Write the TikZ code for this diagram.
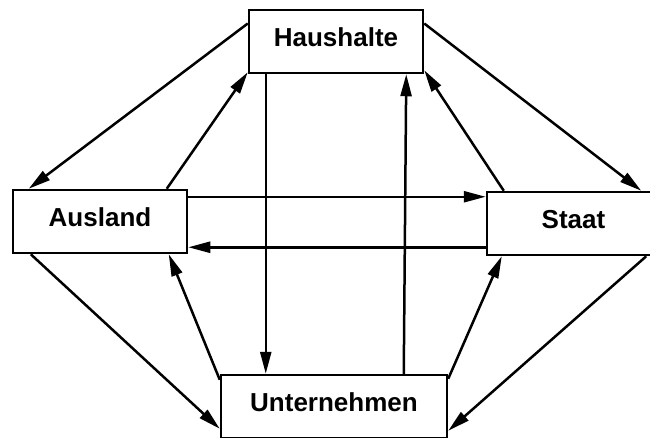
\documentclass[tikz,border=0pt]{standalone}
\usepackage{fontspec}
\setmainfont{Liberation Sans}
\usetikzlibrary{arrows.meta}
\begin{document}
\begin{tikzpicture}[x=1pt,y=-1pt,
  box/.style={draw,line width=2.5pt,fill=white,inner sep=0pt,minimum height=63pt,
    text depth=8pt,font=\bfseries\fontsize{26}{30}\selectfont},
  flow/.style={line width=2.5pt,-{Triangle[length=22pt,width=11pt]}}]
\useasboundingbox (0,0) rectangle (650,437);
\clip (0,0) rectangle (650,437);
\fill[white] (0,0) rectangle (650,437);
\node[box,minimum width=174pt] (H) at (336,41.5) {Haushalte};
\node[box,minimum width=174pt] (A) at (100,221.5) {Ausland};
\node[box,minimum width=173pt] (S) at (573.5,223.5) {Staat};
\node[box,minimum width=226pt] (U) at (334,406.5) {Unternehmen};
% Haushalte - Ausland
\draw[flow] ([yshift=18pt]H.west) -- ([xshift=17pt]A.north west);
\draw[flow] ([xshift=155pt]A.north west) -- ([yshift=2pt]H.south west);
% Haushalte - Staat
\draw[flow] ([yshift=18pt]H.east) -- ([xshift=-20pt]S.north east);
\draw[flow] ([xshift=18pt]S.north west) -- ([yshift=4pt]H.south east);
% Haushalte - Unternehmen
\draw[flow] ([xshift=18pt]H.south west) -- ([xshift=46pt]U.north west);
\draw[flow] ([xshift=184pt]U.north west) -- ([xshift=-18pt]H.south east);
% Ausland - Staat
\draw[flow] ([yshift=-8pt]A.north east) -- ([yshift=-6pt]S.north west);
\draw[flow] ([yshift=9pt]S.south west) -- ([yshift=7pt]A.south east);
% Ausland - Unternehmen
\draw[flow] ([xshift=19pt]A.south west) -- ([yshift=-55pt]U.north west);
\draw[flow] ([yshift=-6pt]U.north west) -- ([xshift=157pt]A.south west);
% Staat - Unternehmen
\draw[flow] ([yshift=-5pt]U.north east) -- ([xshift=16pt]S.south west);
\draw[flow] ([xshift=-15pt]S.south east) -- ([yshift=-57pt]U.north east);
\end{tikzpicture}
\end{document}
